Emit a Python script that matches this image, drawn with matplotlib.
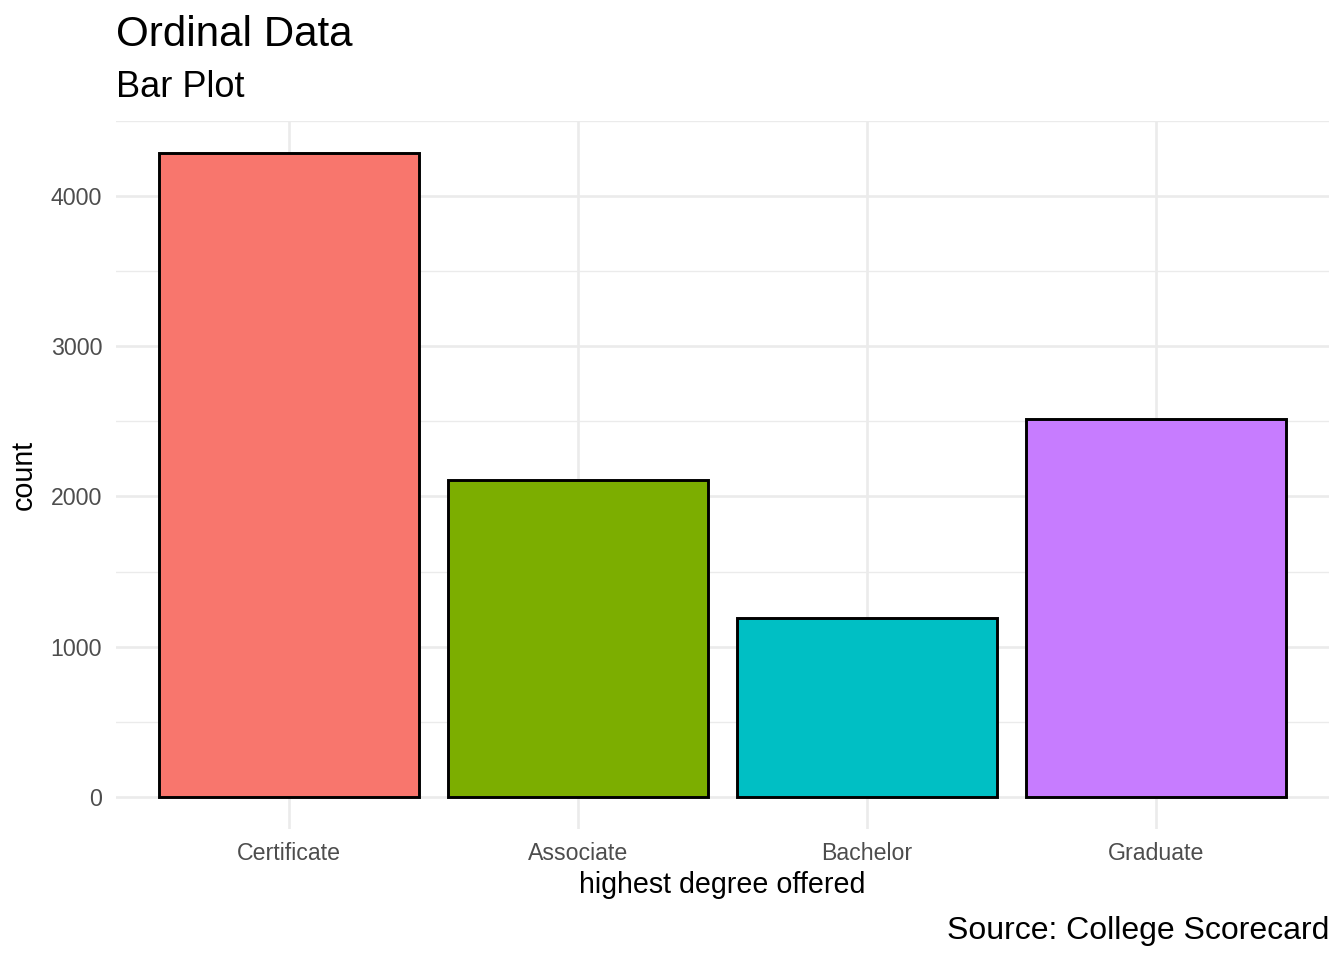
import matplotlib.pyplot as plt
import numpy as np

# highest degree counts
degrees = ["Certificate", "Associate", "Bachelor", "Graduate"]
counts = [4286, 2110, 1191, 2516]
colors = ["#F8766D", "#7CAE00", "#00BFC4", "#C77CFF"]
y_major = [0, 1000, 2000, 3000, 4000]
y_minor = [500, 1500, 2500, 3500, 4500]

plt.rcParams['font.family'] = ['Liberation Sans', 'DejaVu Sans']

W, H = 1344, 960
fig = plt.figure(figsize=(W / 100, H / 100), dpi=100)
ax = fig.add_axes([116 / W, 1 - 829 / H, (1329 - 116) / W, (829 - 121) / H])

x = np.arange(1, len(degrees) + 1)
ax.set_xlim(0.4, 4.6)
top = max(counts) * 1.05
ax.set_ylim(-max(counts) * 0.05, top)

# grid
for v in y_minor:
    ax.axhline(v, color="#EBEBEB", lw=1.0, zorder=0)
for v in y_major:
    ax.axhline(v, color="#EBEBEB", lw=1.9, zorder=0)
for xi in x:
    ax.axvline(xi, color="#EBEBEB", lw=1.9, zorder=0)

ax.bar(x, counts, width=0.9, color=colors, edgecolor="black", linewidth=2.1, zorder=2)

for s in ax.spines.values():
    s.set_visible(False)
ax.set_xticks(x)
ax.set_xticklabels(degrees)
ax.set_yticks(y_major)
ax.set_yticklabels([str(v) for v in y_major])
ax.tick_params(length=0, labelsize=16.7, labelcolor="#4D4D4D")
ax.tick_params(axis="x", pad=9.5)
ax.tick_params(axis="y", pad=10)

fig.text(116 / W, 1 - 46 / H, "Ordinal Data", fontsize=30.3, va="baseline", ha="left")
fig.text(116 / W, 1 - 97 / H, "Bar Plot", fontsize=26, va="baseline", ha="left")
fig.text((116 + 1329) / 2 / W, 1 - 893 / H, "highest degree offered", fontsize=20.6,
         va="baseline", ha="center")
fig.text(38 / W, 1 - 475 / H, "count", fontsize=20.6, rotation=90, va="center", ha="right")
fig.text(1329 / W, 1 - 939 / H, "Source: College Scorecard", fontsize=23,
         va="baseline", ha="right")

fig.savefig("out.png", dpi=100)
